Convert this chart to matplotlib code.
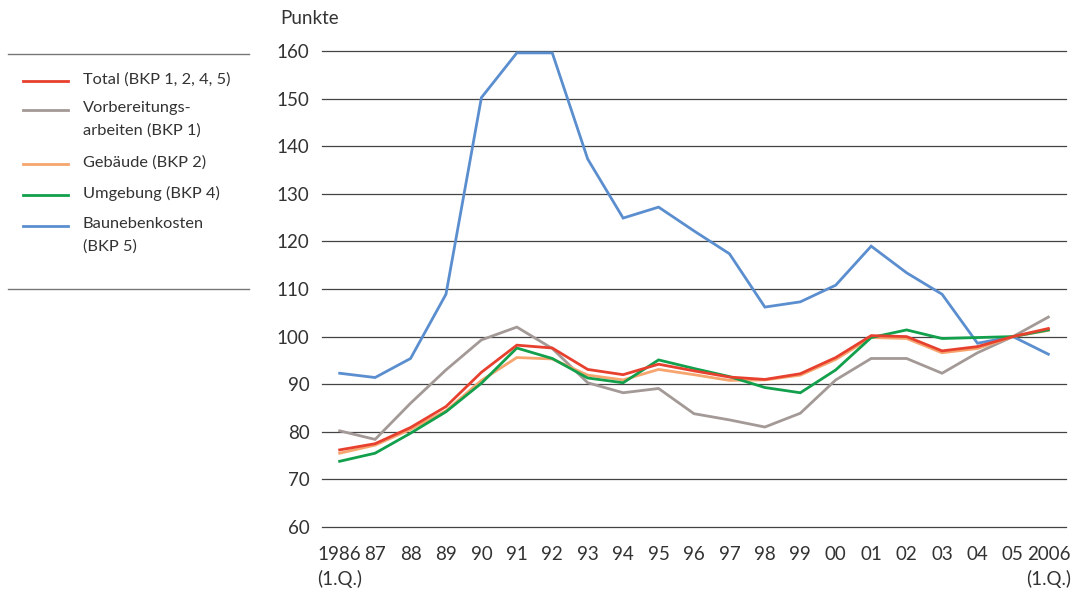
import matplotlib.pyplot as plt
from matplotlib.lines import Line2D
import matplotlib.transforms as mtransforms

plt.rcParams.update({"font.family": ["Lato", "DejaVu Sans"], "font.size": 12})

years = list(range(1986, 2007))
year_labels = ["1986\n(1.Q.)", "87", "88", "89", "90", "91", "92", "93", "94", "95", "96",
               "97", "98", "99", "00", "01", "02", "03", "04", "05", "2006\n(1.Q.)"]

total = [76.2, 77.5, 80.9, 85.3, 92.5, 98.2, 97.6, 93.1, 92.0, 94.2, 92.8,
         91.5, 91.0, 92.2, 95.6, 100.2, 100.0, 97.0, 97.9, 100.0, 101.7]
vorbereitung = [80.2, 78.4, 86.0, 93.0, 99.3, 102.0, 97.5, 90.3, 88.2, 89.1, 83.8,
                82.5, 81.0, 83.9, 90.9, 95.4, 95.4, 92.3, 96.6, 100.0, 104.1]
gebaeude = [75.5, 77.2, 80.5, 84.4, 90.8, 95.6, 95.3, 91.9, 90.9, 93.1, 92.0,
            90.8, 90.9, 91.9, 95.2, 99.8, 99.6, 96.6, 97.5, 100.0, 101.3]
umgebung = [73.8, 75.5, 79.7, 84.2, 90.2, 97.6, 95.4, 91.3, 90.3, 95.1, 93.3,
            91.6, 89.3, 88.2, 93.0, 99.8, 101.4, 99.6, 99.8, 100.0, 101.4]
nebenkosten = [92.3, 91.4, 95.4, 108.9, 150.2, 159.6, 159.6, 137.3, 124.9, 127.2, 122.2,
               117.4, 106.2, 107.3, 110.8, 119.0, 113.4, 108.9, 98.6, 100.0, 96.3]

series_labels = ["Total (BKP 1, 2, 4, 5)", "Vorbereitungs-\narbeiten (BKP 1)", "Gebäude (BKP 2)",
                 "Umgebung (BKP 4)", "Baunebenkosten\n(BKP 5)"]
series_colors = ["#e8402e", "#a39996", "#f6a56e", "#12a04c", "#5a8ecf"]
yticks = [60, 70, 80, 90, 100, 110, 120, 130, 140, 150, 160]

fig = plt.figure(figsize=(10.8, 5.95), dpi=100)
ax = fig.add_axes([0.2981, 0.1143, 0.689, 0.8])

for y in yticks:
    ax.axhline(y, color="#444444", linewidth=0.9, zorder=1, clip_on=False)

# draw order: blue, gray, orange, green, red on top
order = [4, 1, 2, 3, 0]
data = [total, vorbereitung, gebaeude, umgebung, nebenkosten]
for i in order:
    ax.plot(years, data[i], color=series_colors[i], linewidth=2.0, zorder=3 + order.index(i),
            solid_joinstyle="miter")

ax.set_xlim(1985.5, 2006.5)
ax.set_ylim(60, 160)
ax.set_yticks(yticks)
ax.set_xticks(years)
ax.set_xticklabels(year_labels)
xlabs = ax.get_xticklabels()
for lab in xlabs:
    lab.set_va("top")
    lab.set_linespacing(1.45)
xlabs[0].set_multialignment("left")
xlabs[-1].set_multialignment("right")
# the long end labels sit a little outward, as in the original
xlabs[0].set_transform(xlabs[0].get_transform()
                       + mtransforms.ScaledTranslation(-6 / 72, 0, fig.dpi_scale_trans))
xlabs[-1].set_transform(xlabs[-1].get_transform()
                        + mtransforms.ScaledTranslation(4 / 72, 0, fig.dpi_scale_trans))
ax.tick_params(axis="both", length=0, colors="#333333", labelsize=13.5)
ax.tick_params(axis="y", pad=9)
ax.tick_params(axis="x", pad=14)
for s in ax.spines.values():
    s.set_visible(False)

fig.text(280 / 1080, 1 - 18 / 595, "Punkte", ha="left", va="center", fontsize=13.5, color="#333333")

# legend panel on the left
W, H = 1080, 595
for yy in (54, 289):
    fig.add_artist(Line2D([8 / W, 249 / W], [1 - yy / H, 1 - yy / H], color="#777777", linewidth=1.0))
entry_y = [81, 110, 164, 195, 226]
for lab, col, yy in zip(series_labels, series_colors, entry_y):
    fig.add_artist(Line2D([23 / W, 68 / W], [1 - yy / H, 1 - yy / H], color=col, linewidth=2.0))
    fig.text(83 / W, 1 - (yy - 9) / H, lab, ha="left", va="top", fontsize=11.8, color="#333333",
             linespacing=1.75)

fig.savefig("out.png", dpi=100)
